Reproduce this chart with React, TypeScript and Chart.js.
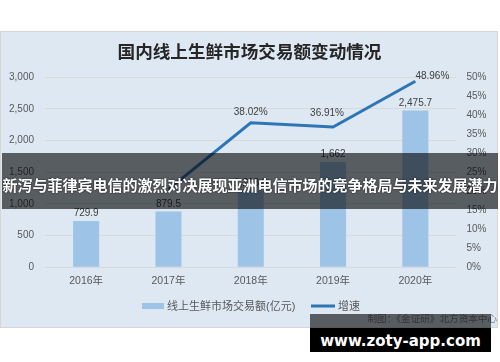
import React, { useEffect, useRef } from "react";
import { Chart, registerables } from "chart.js";

Chart.register(...registerables);

const categories = ["2016年", "2017年", "2018年", "2019年", "2020年"];
const tradeVolume = [729.9, 879.5, 1213.9, 1662, 2475.7];
const growthRate: (number | null)[] = [null, 20.5, 38.02, 36.91, 48.96];
const showGrowthLabel = [false, false, true, true, true];
const volumeLabel = "线上生鲜市场交易额(亿元)";
const growthLabel = "增速";
const chartTitle = "国内线上生鲜市场交易额变动情况";
const sourceText = "制图：《金证研》北方资本中心";
const bannerText = "新泻与菲律宾电信的激烈对决展现亚洲电信市场的竞争格局与未来发展潜力";
const watermarkText = "www.zoty-app.com";

const FONT = "'Liberation Sans', 'Noto Sans CJK SC', sans-serif";
const BAR_COLOR = "#9dc3e6";
const LINE_COLOR = "#2e75b6";
const growthLabelOffsets = [
  [0, 0],
  [0, -10],
  [0, -10.6],
  [-6, -14],
  [17, -5.4],
];

const fmtNum = (v: number) => v.toLocaleString("en-US", { maximumFractionDigits: 1 });

const labelPlugin = {
  id: "valueLabels",
  afterDatasetsDraw(chart: any) {
    const ctx = chart.ctx;
    ctx.save();
    ctx.font = `10px ${FONT}`;
    ctx.fillStyle = "#404040";
    ctx.textAlign = "center";
    ctx.textBaseline = "middle";
    chart.getDatasetMeta(1).data.forEach((el: any, i: number) => {
      ctx.fillText(fmtNum(tradeVolume[i]), el.x, el.y - 7.5);
    });
    chart.getDatasetMeta(0).data.forEach((el: any, i: number) => {
      const v = growthRate[i];
      if (v == null || !showGrowthLabel[i]) return;
      const [dx, dy] = growthLabelOffsets[i];
      ctx.fillText(v.toFixed(2) + "%", el.x + dx, el.y + dy);
    });
    ctx.restore();
  },
};

const decorPlugin = {
  id: "decor",
  afterDraw(chart: any) {
    const ctx = chart.ctx;
    ctx.save();
    ctx.font = `bold 17.6px ${FONT}`;
    ctx.fillStyle = "#262626";
    ctx.textAlign = "center";
    ctx.textBaseline = "middle";
    ctx.fillText(chartTitle, 248.5, 21.5);
    ctx.fillStyle = BAR_COLOR;
    ctx.fillRect(141, 271, 22, 6);
    ctx.fillStyle = LINE_COLOR;
    ctx.fillRect(310, 272.5, 24, 3);
    ctx.font = `11px ${FONT}`;
    ctx.fillStyle = "#595959";
    ctx.textAlign = "left";
    ctx.fillText(volumeLabel, 166, 274.5);
    ctx.fillText(growthLabel, 337, 274.5);
    ctx.font = `9.6px ${FONT}`;
    ctx.fillStyle = "#808080";
    ctx.textAlign = "right";
    ctx.fillText(sourceText, 496, 287.5);
    ctx.restore();
  },
};

export default function App() {
  const ref = useRef<HTMLCanvasElement>(null);
  useEffect(() => {
    if (!ref.current) return;
    const chart = new Chart(ref.current, {
      type: "bar",
      data: {
        labels: categories,
        datasets: [
          {
            type: "line",
            label: growthLabel,
            data: growthRate,
            yAxisID: "y1",
            borderColor: LINE_COLOR,
            backgroundColor: LINE_COLOR,
            borderWidth: 3,
            pointRadius: 0,
            tension: 0,
            order: 0,
          } as any,
          {
            type: "bar",
            label: volumeLabel,
            data: tradeVolume,
            yAxisID: "y",
            backgroundColor: BAR_COLOR,
            barPercentage: 0.316,
            categoryPercentage: 1,
            order: 1,
          },
        ],
      },
      options: {
        responsive: false,
        animation: false,
        devicePixelRatio: 1,
        layout: { padding: { top: 45.3, left: 0, right: 0, bottom: 0 } },
        plugins: {
          legend: { display: false },
          title: { display: false },
          tooltip: { enabled: false },
        },
        scales: {
          x: {
            grid: { display: false, drawTicks: false },
            border: { display: false },
            ticks: {
              padding: 8,
              color: "#595959",
              font: { family: FONT, size: 10.5 },
              maxRotation: 0,
            },
            afterFit: (s: any) => {
              s.height = 59.7;
            },
          },
          y: {
            position: "left",
            min: 0,
            max: 3000,
            grid: { color: "#d9d9d9", lineWidth: 1, drawTicks: false },
            border: { display: false },
            ticks: {
              stepSize: 500,
              padding: 11,
              color: "#595959",
              font: { family: FONT, size: 10 },
              callback: (v: any) => Number(v).toLocaleString("en-US"),
            },
            afterFit: (s: any) => {
              s.width = 44;
            },
          },
          y1: {
            position: "right",
            min: 0,
            max: 50,
            grid: { display: false, drawTicks: false },
            border: { display: false },
            ticks: {
              stepSize: 5,
              padding: 10,
              color: "#595959",
              font: { family: FONT, size: 10 },
              callback: (v: any) => v + "%",
            },
            afterFit: (s: any) => {
              s.width = 40.5;
            },
          },
        },
      } as any,
      plugins: [labelPlugin, decorPlugin],
    });
    return () => chart.destroy();
  }, []);

  return (
    <div
      style={{
        position: "fixed",
        left: 0,
        top: 0,
        width: 500,
        height: 362,
        background: "#ffffff",
        overflow: "hidden",
      }}
    >
      <div
        style={{
          position: "absolute",
          left: 0,
          top: 31,
          width: 498,
          height: 297,
          boxSizing: "border-box",
          border: "1px solid #d6d6d6",
          background: "#dde8f3",
        }}
      >
        <canvas ref={ref} width={496} height={295} style={{ display: "block", width: 496, height: 295 }} />
      </div>
      <div
        style={{
          position: "absolute",
          left: 2,
          top: 153,
          width: 496,
          height: 56,
          background: "rgba(0,0,0,0.6)",
          color: "#ffffff",
          fontFamily: "'Noto Sans CJK SC', sans-serif",
          fontWeight: 700,
          fontSize: 15,
          lineHeight: "56px",
          textAlign: "center",
          whiteSpace: "nowrap",
          paddingTop: 4,
          boxSizing: "border-box",
          textShadow: "0 0 2px rgba(0,0,0,0.8)",
        }}
      >
        {bannerText}
      </div>
      <div
        style={{
          position: "absolute",
          left: 310,
          top: 314,
          width: 181,
          height: 38,
          background: "rgba(0,0,0,0.6)",
        }}
      />
      <div
        style={{
          position: "absolute",
          left: 310,
          top: 328,
          width: 181,
          height: 24,
          background: "#000000",
        }}
      />
      <div
        style={{
          position: "absolute",
          left: 310,
          top: 314,
          width: 181,
          height: 38,
          color: "#ffffff",
          fontFamily: "'DejaVu Sans', sans-serif",
          fontWeight: 700,
          fontSize: 15,
          lineHeight: "38px",
          textAlign: "center",
          paddingTop: 8,
          boxSizing: "border-box",
          whiteSpace: "nowrap",
        }}
      >
        {watermarkText}
      </div>
    </div>
  );
}
